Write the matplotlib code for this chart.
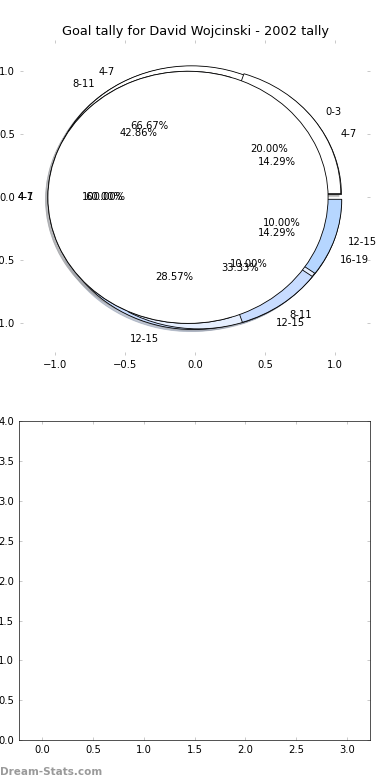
import matplotlib
matplotlib.use('Agg')
import matplotlib.pyplot as plt
import numpy as np

plt.rcParams['font.family'] = 'DejaVu Sans'
plt.rcParams['font.size'] = 12
plt.rcParams['xtick.direction'] = 'in'
plt.rcParams['ytick.direction'] = 'in'
plt.rcParams['xtick.top'] = True
plt.rcParams['ytick.right'] = True
plt.rcParams['axes.unicode_minus'] = True

title = 'Goal tally for David Wojcinski - 2002 tally'

# one pie per group, drawn on top of each other (A, C, B, D)
labels_a = ['4-7', '8-11', '12-15', '16-19']
goals_a = [1, 3, 2, 1]
labels_c = ['4-7', '12-15']
goals_c = [2, 1]
labels_b = ['0-3', '4-7', '8-11', '12-15']
goals_b = [2, 6, 1, 1]
labels_d = ['4-1']
goals_d = [1]

colors = ['white', '#e6efff', '#c8dcff', '#b6d6ff']

xticks_top = [-1.0, -0.5, 0.0, 0.5, 1.0]
xticks_bot = [0.0, 0.5, 1.0, 1.5, 2.0, 2.5, 3.0]
yticks_bot = [0.0, 0.5, 1.0, 1.5, 2.0, 2.5, 3.0, 3.5, 4.0]

fig = plt.figure(figsize=(6.5, 13), dpi=60, facecolor='white')

ax1 = fig.add_axes([0.051, 0.545, 0.898, 0.404])
for goals, labels in [(goals_a, labels_a), (goals_c, labels_c),
                      (goals_b, labels_b), (goals_d, labels_d)]:
    ax1.pie(goals, labels=labels, colors=colors[:len(goals)],
            explode=[0.05] * len(goals), autopct='%1.2f%%',
            shadow=dict(shade=0.35),
            wedgeprops=dict(edgecolor='black', linewidth=1),
            textprops=dict(fontsize=12))
ax1.set_aspect('auto')
ax1.set_frame_on(False)
ax1.set_xlim(-1.25, 1.25)
ax1.set_ylim(-1.25, 1.25)
ax1.set_xticks(xticks_top)
ax1.set_yticks(xticks_top)
ax1.tick_params(color='#b0b0b0', length=4, labelsize=12, pad=6)
ax1.set_title(title, fontsize=15.5, pad=6)

ax2 = fig.add_axes([0.049, 0.051, 0.9, 0.409])
ax2.set_xlim(-0.225, 3.225)
ax2.set_ylim(0, 4)
ax2.set_xticks(xticks_bot)
ax2.set_yticks(yticks_bot)
ax2.tick_params(color='#b0b0b0', length=4, labelsize=12, pad=6)

fig.text(0.0, 0.004, 'Dream-Stats.com', color='#9a9a9a', fontsize=12.5,
         weight='bold', ha='left', va='bottom')

plt.savefig('out.png', dpi=60, facecolor='white')
